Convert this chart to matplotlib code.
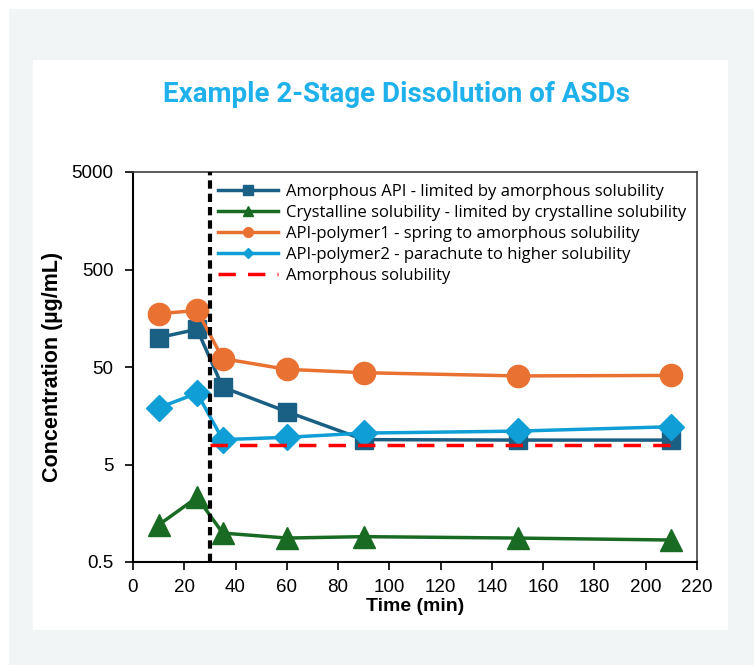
import matplotlib.pyplot as plt
import matplotlib.patches as patches
from matplotlib.lines import Line2D
from matplotlib.ticker import FixedLocator, NullLocator

# data
time = [10, 25, 35, 60, 90, 150, 210]
amorphous_api = [100, 122, 31, 17.4, 9.0, 8.9, 8.9]
crystalline = [1.2, 2.3, 0.99, 0.88, 0.91, 0.88, 0.84]
polymer1 = [176, 190, 61, 47.3, 43.7, 40.5, 41]
polymer2 = [19.1, 26.9, 9.0, 9.5, 10.5, 11.0, 12.2]
amorph_sol_time = [30, 210]
amorph_sol = [8.0, 8.0]
stage_change = 30

labels = ['Amorphous API - limited by amorphous solubility',
          'Crystalline solubility - limited by crystalline solubility',
          'API-polymer1 - spring to amorphous solubility',
          'API-polymer2 - parachute to higher solubility',
          'Amorphous solubility']
yticks = [0.5, 5, 50, 500, 5000]
ytick_labels = ['0.5', '5', '50', '500', '5000']
xticks = list(range(0, 221, 20))

W, H = 754, 666
fig = plt.figure(figsize=(W / 100, H / 100), dpi=100)
fig.patch.set_facecolor('white')

def px(x0, y0, x1, y1):
    return [x0 / W, 1 - y1 / H, (x1 - x0) / W, (y1 - y0) / H]

# grey card + white panel
r = px(9, 9, 754, 665)
fig.patches.append(patches.Rectangle((r[0], r[1]), r[2], r[3], transform=fig.transFigure,
                                     facecolor='#f2f5f6', edgecolor='none', zorder=-2))
r = px(33, 60, 728, 630)
fig.patches.append(patches.Rectangle((r[0], r[1]), r[2], r[3], transform=fig.transFigure,
                                     facecolor='white', edgecolor='none', zorder=-1))

fig.text(396 / W, 1 - 95 / H, 'Example 2-Stage Dissolution of ASDs', ha='center', va='center',
         color='#1eb1ec', fontsize=20, fontweight='bold', family='Roboto')

ax = fig.add_axes(px(133, 172, 697, 562))
ax.set_facecolor('none')

ax.plot(time, amorphous_api, color='#1a5f84', lw=2.5, marker='s', ms=13.5, label=labels[0], zorder=3)
ax.plot(time, crystalline, color='#196b24', lw=2.5, marker='^', ms=16, label=labels[1], zorder=3)
ax.plot(time, polymer1, color='#e97132', lw=2.5, marker='o', ms=16, label=labels[2], zorder=3)
ax.plot(time, polymer2, color='#0f9ed5', lw=2.5, marker='D', ms=13, label=labels[3], zorder=4)
ax.plot(amorph_sol_time, amorph_sol, color='#ff0000', lw=2.5, ls=(0, (5, 3.5)), label=labels[4], zorder=5)
ax.axvline(stage_change, color='black', lw=3, ls=(0, (2, 1.2)), zorder=6)

ax.set_yscale('log')
ax.set_ylim(0.5, 5000)
ax.set_xlim(0, 220)
ax.yaxis.set_major_locator(FixedLocator(yticks))
ax.yaxis.set_minor_locator(NullLocator())
ax.set_yticklabels(ytick_labels)
ax.set_xticks(xticks)
ax.tick_params(axis='both', labelsize=13.5, length=6, width=1.2, colors='black', pad=6)
ax.tick_params(axis='y', pad=8)
for s in ['left', 'bottom']:
    ax.spines[s].set_linewidth(1.5)
    ax.spines[s].set_color('black')
for s in ['top', 'right']:
    ax.spines[s].set_linewidth(1.2)
    ax.spines[s].set_color('#404040')
for lab in ax.get_xticklabels() + ax.get_yticklabels():
    lab.set_family('Liberation Sans')

ax.set_xlabel('Time (min)', fontsize=14, fontweight='bold', family='Liberation Sans', labelpad=2)
ax.set_ylabel('Concentration (µg/mL)', fontsize=15.5, fontweight='bold', family='Liberation Sans', labelpad=6)

# legend handles with small markers like the reference
handles = [
    Line2D([], [], color='#1a5f84', lw=2.5, marker='s', ms=7),
    Line2D([], [], color='#196b24', lw=2.5, marker='^', ms=7),
    Line2D([], [], color='#e97132', lw=2.5, marker='o', ms=7),
    Line2D([], [], color='#0f9ed5', lw=2.5, marker='D', ms=5.5),
    Line2D([], [], color='#ff0000', lw=2.5, ls=(0, (5, 3.5))),
]
ax.legend(handles, labels, loc='upper left', bbox_to_anchor=(0.13, 1.0), frameon=False,
          handlelength=3.6, handletextpad=0.5, labelspacing=0.3,
          borderaxespad=0.3, prop={'family': 'Open Sans', 'size': 12})

fig.savefig('out.png', dpi=100)
